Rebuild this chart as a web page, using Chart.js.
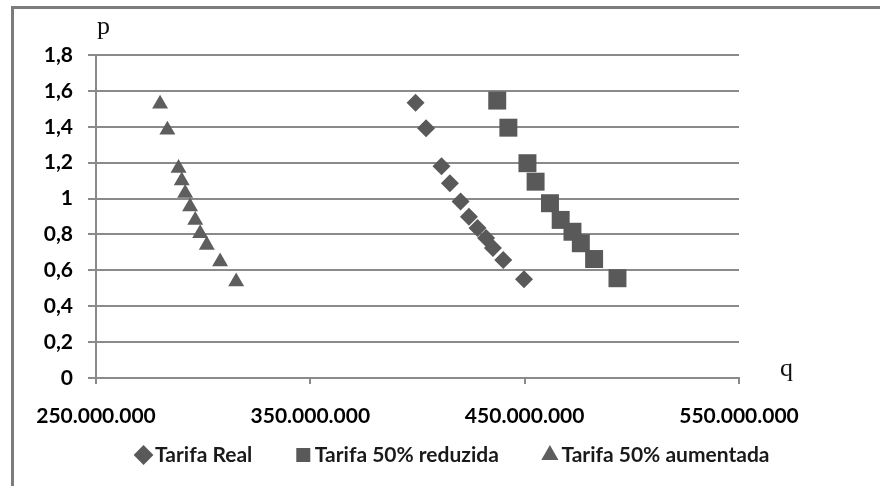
<!DOCTYPE html>
<html><head><meta charset="utf-8">
<script src="https://cdn.jsdelivr.net/npm/chart.js@4/dist/chart.umd.min.js"></script>
<style>html,body{margin:0;padding:0;background:#fff}#wrap{width:880px;height:486px}</style>
</head><body><div id="wrap"><canvas id="c" width="880" height="486"></canvas></div>
<script>
// ---- data (q in units, p in R$) ----
const seriesNames = ['Tarifa Real', 'Tarifa 50% reduzida', 'Tarifa 50% aumentada'];
const realQ = [399100000, 404000000, 411200000, 415100000, 420100000, 424000000, 428000000, 432000000, 435200000, 440000000, 449700000];
const realP = [1.534, 1.392, 1.18, 1.085, 0.983, 0.899, 0.836, 0.78, 0.725, 0.658, 0.55];
const reduzQ = [437200000, 442400000, 451300000, 455100000, 461800000, 466800000, 472300000, 476200000, 482400000, 493300000];
const reduzP = [1.546, 1.395, 1.197, 1.094, 0.974, 0.881, 0.815, 0.751, 0.663, 0.556];
const aumenQ = [279900000, 283300000, 288500000, 290000000, 291600000, 293900000, 296300000, 298600000, 301700000, 307900000, 315400000];
const aumenP = [1.527, 1.382, 1.169, 1.10, 1.03, 0.955, 0.88, 0.806, 0.741, 0.648, 0.537];
const xTickValues = [250000000, 350000000, 450000000, 550000000];
const yTickValues = [0, 0.2, 0.4, 0.6, 0.8, 1, 1.2, 1.4, 1.6, 1.8];
const axisTitles = { x: 'q', y: 'p' };

const toPoints = (qs, ps) => qs.map((q, i) => ({ x: q, y: ps[i] }));
const fmtQ = v => String(Math.round(v)).replace(/\B(?=(\d{3})+(?!\d))/g, '.');
const fmtP = v => String(Math.round(v * 10) / 10).replace('.', ',');

const GRID = '#8a8a8a';
const MARK = '#595959';

const framePlugin = {
  id: 'frame',
  beforeDraw(chart) {
    const ctx = chart.ctx;
    ctx.save();
    ctx.fillStyle = '#fff';
    ctx.fillRect(0, 0, chart.width, chart.height);
    ctx.strokeStyle = '#7c7c7c';
    ctx.lineWidth = 3;
    ctx.beginPath();
    ctx.moveTo(12.5, chart.height);
    ctx.lineTo(12.5, 7.5);
    ctx.lineTo(chart.width, 7.5);
    ctx.stroke();
    ctx.restore();
  },
  afterDraw(chart) {
    const { ctx, chartArea, scales } = chart;
    ctx.save();
    ctx.fillStyle = '#111';
    ctx.font = '26px "Liberation Serif"';
    ctx.textAlign = 'left';
    ctx.textBaseline = 'alphabetic';
    ctx.fillText(axisTitles.y, scales.y.right + 1, chartArea.top - 21);
    ctx.fillText(axisTitles.x, scales.x.right + 41, chartArea.bottom - 2);
    ctx.restore();
  }
};

new Chart(document.getElementById('c'), {
  type: 'scatter',
  data: {
    datasets: [
      { label: seriesNames[0], data: toPoints(realQ, realP), pointStyle: 'rectRot', pointRadius: 9, pointHoverRadius: 9,
        backgroundColor: MARK, borderColor: MARK, borderWidth: 0 },
      { label: seriesNames[1], data: toPoints(reduzQ, reduzP), pointStyle: 'rect', pointRadius: 12.7, pointHoverRadius: 12.7,
        backgroundColor: MARK, borderColor: MARK, borderWidth: 0 },
      { label: seriesNames[2], data: toPoints(aumenQ, aumenP), pointStyle: 'triangle', pointRadius: 9.2, pointHoverRadius: 9.2,
        backgroundColor: '#5e5e5e', borderColor: '#5e5e5e', borderWidth: 0 }
    ]
  },
  options: {
    responsive: false,
    animation: false,
    devicePixelRatio: 1,
    layout: { padding: { left: 32, top: 55, right: 0, bottom: 10.5 } },
    plugins: {
      tooltip: { enabled: false },
      legend: {
        position: 'bottom',
        labels: {
          usePointStyle: true, boxHeight: 14, boxWidth: 2, padding: 50, color: '#1a1a1a',
          font: { family: 'Lato', weight: 'bold', size: 21 }
        }
      }
    },
    scales: {
      x: {
        type: 'linear', min: xTickValues[0], max: xTickValues[xTickValues.length - 1],
        afterBuildTicks: s => { s.ticks = xTickValues.map(v => ({ value: v })); },
        afterFit: s => { s.height = 16.5; },
        grid: { drawOnChartArea: false, drawTicks: true, tickLength: 6, color: GRID, lineWidth: 2 },
        border: { display: true, color: GRID, width: 2 },
        ticks: { mirror: true, padding: -50.6, color: '#000', maxRotation: 0, autoSkip: false,
          font: { family: 'Lato', weight: 'bold', size: 21 }, callback: v => fmtQ(v) }
      },
      y: {
        type: 'linear', min: 0, max: 1.8,
        afterBuildTicks: s => { s.ticks = yTickValues.map(v => ({ value: v })); },
        afterFit: s => { s.width = 64; },
        grid: { drawTicks: true, tickLength: 8, color: GRID, lineWidth: 2 },
        border: { display: true, color: GRID, width: 2 },
        ticks: { padding: 15, color: '#000', autoSkip: false,
          font: { family: 'Lato', weight: 'bold', size: 21 }, callback: v => fmtP(v) }
      },
      yPad: {
        type: 'linear', position: 'right', display: true,
        grid: { display: false }, ticks: { display: false }, border: { display: false },
        afterFit: s => { s.width = 141; }
      }
    }
  },
  plugins: [framePlugin]
});
</script>
</body></html>
